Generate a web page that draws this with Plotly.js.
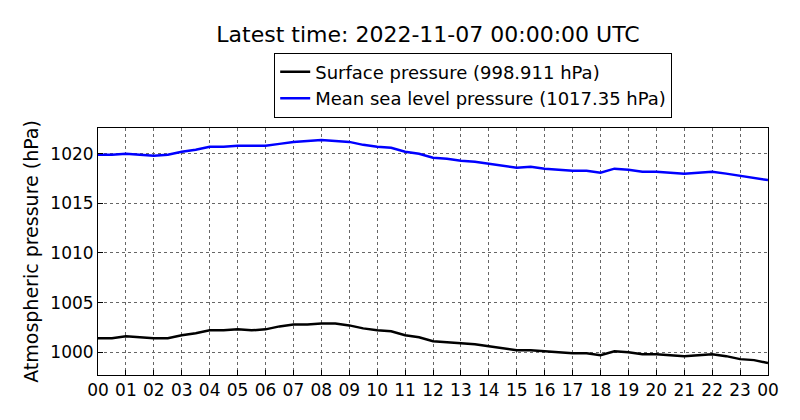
<!DOCTYPE html>
<html><head><meta charset="utf-8">
<script src="https://cdn.plot.ly/plotly-3.0.1.min.js"></script>
<style>body{margin:0}#plot{width:800px;height:420px}</style>
</head><body><div id="plot"></div>
<script>
// hours since 2022-11-06 00:00 UTC
const hours = [0,0.5,1,1.5,2,2.5,3,3.5,4,4.5,5,5.5,6,6.5,7,7.5,8,8.5,9,9.5,10,10.5,11,11.5,12,12.5,13,13.5,14,14.5,15,15.5,16,16.5,17,17.5,18,18.5,19,19.5,20,20.5,21,21.5,22,22.5,23,23.5,24];
const mslp = [1019.9,1019.9,1020.0,1019.9,1019.8,1019.9,1020.2,1020.4,1020.7,1020.7,1020.8,1020.8,1020.8,1021.0,1021.2,1021.3,1021.4,1021.3,1021.2,1020.9,1020.7,1020.6,1020.2,1020.0,1019.6,1019.5,1019.3,1019.2,1019.0,1018.8,1018.6,1018.7,1018.5,1018.4,1018.3,1018.3,1018.1,1018.5,1018.4,1018.2,1018.2,1018.1,1018.0,1018.1,1018.2,1018.0,1017.8,1017.6,1017.35];
const surface = [1001.4,1001.4,1001.6,1001.5,1001.4,1001.4,1001.7,1001.9,1002.2,1002.2,1002.3,1002.2,1002.3,1002.6,1002.8,1002.8,1002.9,1002.9,1002.7,1002.4,1002.2,1002.1,1001.7,1001.5,1001.1,1001.0,1000.9,1000.8,1000.6,1000.4,1000.2,1000.2,1000.1,1000.0,999.9,999.9,999.7,1000.1,1000.0,999.8,999.8,999.7,999.6,999.7,999.8,999.6,999.3,999.2,998.911];
const tickVals = [...Array(25).keys()];
const tickText = tickVals.map(h => String(h % 24).padStart(2, '0'));

const data = [
  {x: hours, y: surface, type: 'scatter', mode: 'lines', name: 'Surface pressure (998.911 hPa)', line: {color: 'black', width: 2.5}},
  {x: hours, y: mslp, type: 'scatter', mode: 'lines', name: 'Mean sea level pressure (1017.35 hPa)', line: {color: '#0000ff', width: 2.5}}
];
const axisCommon = {showline: true, mirror: true, linecolor: 'black', linewidth: 1, ticks: 'inside', ticklen: 5,
  tickcolor: 'black', showgrid: true, gridcolor: '#666', griddash: 'dot', gridwidth: 0.5, zeroline: false,
  tickfont: {size: 17, color: 'black'}};
const layout = {
  width: 800, height: 420,
  margin: {l: 98, r: 32, t: 128, b: 45},
  paper_bgcolor: 'white', plot_bgcolor: 'white',
  font: {family: 'DejaVu Sans', color: 'black'},
  title: {text: 'Latest time: 2022-11-07 00:00:00 UTC', font: {size: 22}, x: 0.535, xanchor: 'center', y: 0.918, yanchor: 'middle'},
  showlegend: true,
  legend: {x: 0.56, xanchor: 'center', y: 1.305, yanchor: 'top', bordercolor: 'black', borderwidth: 1,
    font: {size: 18}, bgcolor: 'white', tracegroupgap: 0},
  xaxis: Object.assign({}, axisCommon, {range: [0, 24], tickvals: tickVals, ticktext: tickText}),
  yaxis: Object.assign({}, axisCommon, {range: [997.7, 1022.6], tickvals: [1000, 1005, 1010, 1015, 1020],
    title: {text: 'Atmospheric pressure (hPa)', font: {size: 19}, standoff: 6}})
};
Plotly.newPlot('plot', data, layout, {displayModeBar: false});
</script></body></html>
